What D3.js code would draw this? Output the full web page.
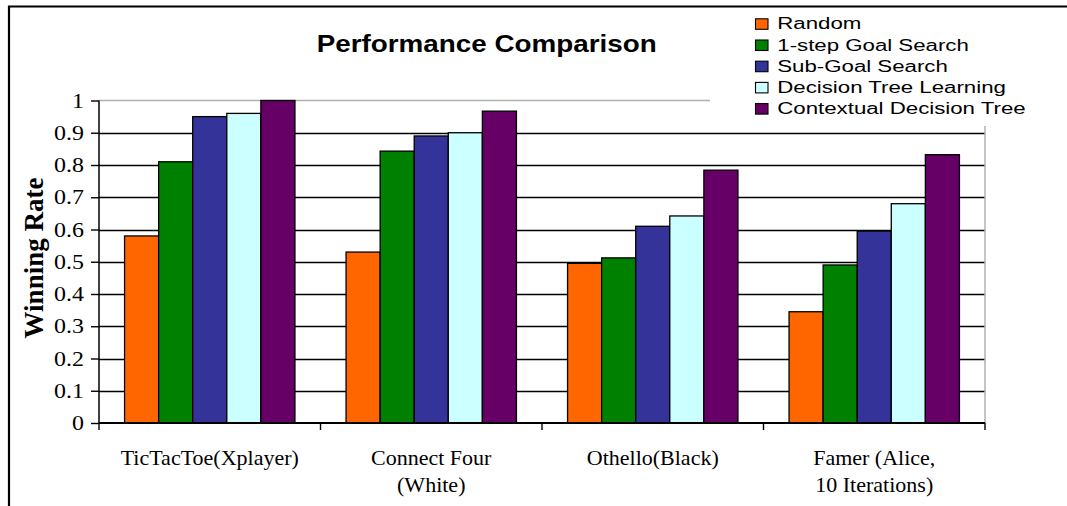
<!DOCTYPE html>
<html>
<head>
<meta charset="utf-8">
<script src="https://cdn.jsdelivr.net/npm/d3@7"></script>
<style>
  html, body { margin: 0; padding: 0; background: #fff; overflow: hidden; }
  svg { display: block; }
</style>
</head>
<body>
<svg id="chart" width="1067" height="506"></svg>
<script>
// ---- data ----
const categories = ["TicTacToe(Xplayer)", "Connect Four\n(White)", "Othello(Black)", "Famer (Alice,\n10 Iterations)"];
const seriesNames = ["Random", "1-step Goal Search", "Sub-Goal Search", "Decision Tree Learning", "Contextual Decision Tree"];
const randomVals = [0.58, 0.53, 0.495, 0.345];
const oneStepVals = [0.81, 0.843, 0.512, 0.49];
const subGoalVals = [0.95, 0.89, 0.61, 0.595];
const dtLearningVals = [0.96, 0.90, 0.642, 0.68];
const contextualVals = [1.0, 0.967, 0.784, 0.832];
const yTicks = [0, 0.1, 0.2, 0.3, 0.4, 0.5, 0.6, 0.7, 0.8, 0.9, 1];
const seriesColors = ["#FF6600", "#008000", "#333399", "#CCFFFF", "#660066"];
const titleText = "Performance Comparison";
const yTitle = "Winning Rate";

const seriesValues = [randomVals, oneStepVals, subGoalVals, dtLearningVals, contextualVals];
const table = categories.map((c, i) => ({
  cat: c,
  vals: seriesNames.map((s, j) => ({ s, v: seriesValues[j][i], c: seriesColors[j] }))
}));

// ---- layout ----
const svg = d3.select("#chart");
const plotL = 99, plotR = 985, plotT = 100.5, plotB = 423;
const serif = "'Liberation Serif','Times New Roman',serif";
const sans = "'Liberation Sans',Arial,sans-serif";

const x0 = d3.scaleBand().domain(categories).range([plotL, plotR]).paddingInner(0).paddingOuter(0);
const x1 = d3.scaleBand().domain(seriesNames).range([0, x0.bandwidth()]).paddingInner(0).paddingOuter(0.75);
const y = d3.scaleLinear().domain([0, 1]).range([plotB, plotT]);

// outer chart border (top and left visible)
svg.append("path").attr("d", "M9,506V6.5H1067")
  .attr("fill", "none").attr("stroke", "#000").attr("stroke-width", 2.2);

// gridlines
svg.append("g").selectAll("line").data(yTicks.filter(t => t > 0 && t < 1)).join("line")
  .attr("x1", plotL).attr("x2", plotR)
  .attr("y1", d => Math.round(y(d)) + 0.5).attr("y2", d => Math.round(y(d)) + 0.5)
  .attr("stroke", "#000").attr("stroke-width", 1.4);

// plot area border (top & right, grey)
svg.append("line").attr("x1", plotL).attr("x2", plotR).attr("y1", y(1)).attr("y2", y(1))
  .attr("stroke", "#b0b0b0").attr("stroke-width", 1.5);
svg.append("line").attr("x1", plotR).attr("x2", plotR).attr("y1", y(1)).attr("y2", plotB)
  .attr("stroke", "#b0b0b0").attr("stroke-width", 1.5);

// bars
const groups = svg.append("g").selectAll("g").data(table).join("g")
  .attr("transform", d => `translate(${x0(d.cat)},0)`);
groups.selectAll("rect").data(d => d.vals).join("rect")
  .attr("x", d => x1(d.s))
  .attr("width", x1.bandwidth())
  .attr("y", d => y(d.v))
  .attr("height", d => plotB - y(d.v))
  .attr("fill", d => d.c)
  .attr("stroke", "#000").attr("stroke-width", 1.3);

// y axis
const yAxis = svg.append("g").attr("transform", `translate(${plotL},0)`)
  .call(d3.axisLeft(y).tickValues(yTicks).tickFormat(d => d === 0 ? "0" : d === 1 ? "1" : d3.format(".1f")(d)).tickSize(8).tickPadding(7));
yAxis.select(".domain").attr("stroke", "#000").attr("stroke-width", 1.5).attr("d", `M0,${y(1)}V${plotB}`);
yAxis.selectAll(".tick line").attr("stroke", "#000").attr("stroke-width", 1.4);
yAxis.selectAll(".tick text").attr("font-family", serif).attr("font-size", 21).attr("fill", "#000")
  .attr("x", 0).attr("transform", "translate(-15,0) scale(1.14,1)");

// x axis
const xAxis = svg.append("g").attr("transform", `translate(0,${plotB})`);
xAxis.append("line").attr("x1", plotL).attr("x2", plotR).attr("y1", 0).attr("y2", 0)
  .attr("stroke", "#000").attr("stroke-width", 1.8);
const boundaries = categories.map(c => x0(c)).concat([x0(categories[categories.length - 1]) + x0.bandwidth()]);
xAxis.selectAll("line.tk").data(boundaries).join("line").attr("class", "tk")
  .attr("x1", d => d).attr("x2", d => d).attr("y1", 0).attr("y2", 7)
  .attr("stroke", "#000").attr("stroke-width", 1.4);
const xl = xAxis.selectAll("text").data(categories).join("text")
  .attr("x", d => x0(d) + x0.bandwidth() / 2)
  .attr("y", 41.5)
  .attr("text-anchor", "middle")
  .attr("font-family", serif).attr("font-size", 22).attr("fill", "#000");
xl.selectAll("tspan").data(d => d.split("\n").map(t => ({ t, cx: x0(d) + x0.bandwidth() / 2 }))).join("tspan")
  .attr("x", d => d.cx).attr("dy", (d, i) => i === 0 ? 0 : 27).text(d => d.t);

// y title
svg.append("text").attr("transform", "translate(43,258) rotate(-90)")
  .attr("text-anchor", "middle").attr("font-family", serif).attr("font-weight", "bold")
  .attr("font-size", 27).attr("fill", "#000").text(yTitle);

// title
svg.append("text").attr("transform", "translate(486.7,51.7) scale(1.126,1)")
  .attr("text-anchor", "middle").attr("font-family", sans).attr("font-weight", "bold")
  .attr("font-size", 24.7).attr("fill", "#000").text(titleText);

// legend
const legend = svg.append("g");
legend.append("rect").attr("x", 710).attr("y", 8).attr("width", 356).attr("height", 118).attr("fill", "#fff");
const lg = legend.selectAll("g.item").data(seriesNames).join("g").attr("class", "item")
  .attr("transform", (d, i) => `translate(0,${29.3 + i * 21.2})`);
lg.append("rect").attr("x", 755.5).attr("y", -10.5).attr("width", 12.5).attr("height", 10.5)
  .attr("fill", (d, i) => seriesColors[i]).attr("stroke", "#000").attr("stroke-width", 1.1);
lg.append("text").attr("transform", "translate(777.3,0) scale(1.39,1)")
  .attr("font-family", sans).attr("font-size", 16).attr("fill", "#000").text(d => d);
</script>
</body>
</html>
